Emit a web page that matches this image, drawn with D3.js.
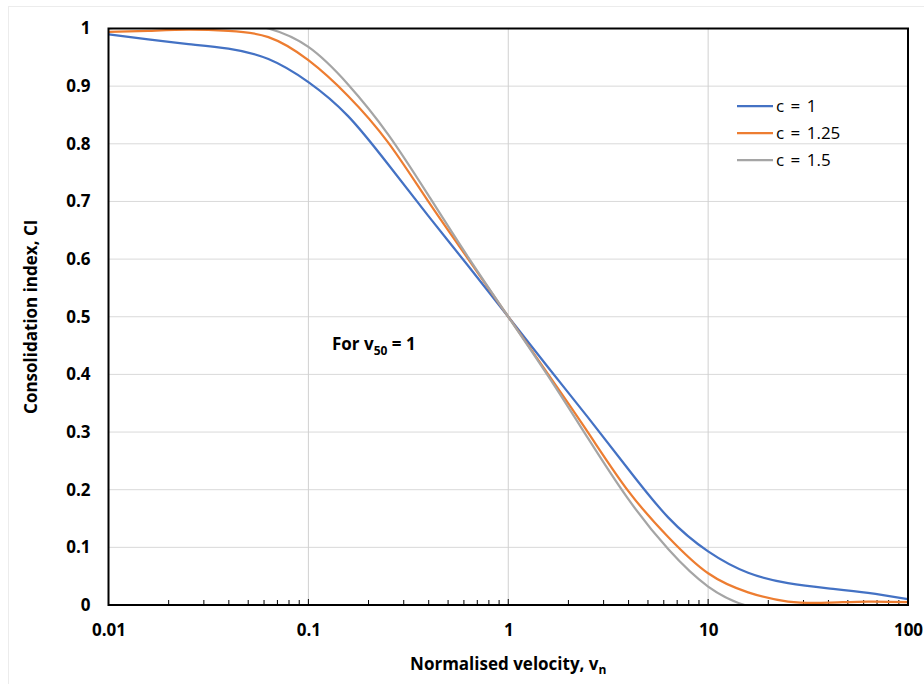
<!DOCTYPE html>
<html>
<head>
<meta charset="utf-8">
<script src="https://cdn.jsdelivr.net/npm/d3@7"></script>
<style>
  html, body { margin: 0; padding: 0; background: #fff; }
  svg { display: block; font-family: "Open Sans", "Noto Sans", sans-serif; }
</style>
</head>
<body>
<div id="chart"></div>
<script>
// ---- data ----
const velocities = [0.01,0.0158,0.0251,0.0398,0.0631,0.1,0.158,0.251,0.398,0.631,1,1.585,2.51,3.98,6.31,10,15.85,25.1,39.8,63.1,100];
const ciC1    = [0.990,0.981,0.973,0.965,0.947,0.907,0.848,0.764,0.675,0.588,0.500,0.412,0.325,0.236,0.152,0.093,0.056,0.038,0.029,0.021,0.010];
const ciC125  = [0.994,0.996,0.998,0.996,0.985,0.945,0.883,0.802,0.700,0.600,0.500,0.400,0.299,0.198,0.118,0.055,0.022,0.006,0.004,0.006,0.005];
const ciC15   = [1.000,1.008,1.014,1.012,1.000,0.968,0.903,0.816,0.711,0.603,0.500,0.397,0.289,0.184,0.097,0.032,-0.002,-0.013,-0.014,-0.006,0.000];
const seriesNames  = ["c = 1", "c = 1.25", "c = 1.5"];
const seriesColors = ["#4472C4", "#ED7D31", "#A5A5A5"];
const xTickValues = [0.01, 0.1, 1, 10, 100];
const xTickLabels = ["0.01", "0.1", "1", "10", "100"];
const yTickValues = [0,0.1,0.2,0.3,0.4,0.5,0.6,0.7,0.8,0.9,1];
const yTickLabels = ["0","0.1","0.2","0.3","0.4","0.5","0.6","0.7","0.8","0.9","1"];
const xTitle = "Normalised velocity, v";
const xTitleSub = "n";
const yTitle = "Consolidation index, CI";

const W = 924, H = 684;
const m = { left: 108.5, right: 16, top: 28.5, bottom: 79 };
const pw = 908 - m.left, ph = 605 - m.top;

const svg = d3.select("#chart").append("svg").attr("width", W).attr("height", H);

// faint outer chart border
svg.append("rect").attr("x", 8.5).attr("y", 6.5).attr("width", W).attr("height", H)
  .attr("fill", "none").attr("stroke", "#ececec");

const g = svg.append("g").attr("transform", `translate(${m.left},${m.top})`);

const x = d3.scaleLog().domain([0.01, 100]).range([0, pw]);
const y = d3.scaleLinear().domain([0, 1]).range([ph, 0]);

// gridlines
g.append("g").selectAll("line").data(yTickValues.slice(1)).join("line")
  .attr("x1", 0).attr("x2", pw)
  .attr("y1", d => y(d)).attr("y2", d => y(d))
  .attr("stroke", "#d9d9d9").attr("stroke-width", 1);
g.append("g").selectAll("line").data(xTickValues.slice(1, -1)).join("line")
  .attr("x1", d => x(d)).attr("x2", d => x(d))
  .attr("y1", 0).attr("y2", ph)
  .attr("stroke", "#d0d0d0").attr("stroke-width", 1);

// minor ticks (inside, bottom)
const minor = [];
[0.01, 0.1, 1, 10].forEach(dec => { for (let k = 2; k <= 9; k++) minor.push(dec * k); });
g.append("g").selectAll("line").data(minor).join("line")
  .attr("x1", d => x(d)).attr("x2", d => x(d))
  .attr("y1", ph).attr("y2", ph - 5)
  .attr("stroke", "#000").attr("stroke-width", 1);
g.append("g").selectAll("line").data(xTickValues).join("line")
  .attr("x1", d => x(d)).attr("x2", d => x(d))
  .attr("y1", ph).attr("y2", ph - 6)
  .attr("stroke", "#000").attr("stroke-width", 1);

// clip
svg.append("defs").append("clipPath").attr("id", "plotclip")
  .append("rect").attr("x", 0).attr("y", 0).attr("width", pw).attr("height", ph);

const seriesData = [ciC1, ciC125, ciC15];
const line = d3.line()
  .x((d, i) => x(velocities[i]))
  .y(d => y(d))
  .curve(d3.curveNatural);

const lines = g.append("g").attr("clip-path", "url(#plotclip)");
seriesData.forEach((vals, si) => {
  lines.append("path").datum(vals)
    .attr("d", line)
    .attr("fill", "none")
    .attr("stroke", seriesColors[si])
    .attr("stroke-width", 2.25)
    .attr("stroke-linejoin", "round");
});

// plot frame
g.append("rect").attr("x", 0).attr("y", 0).attr("width", pw).attr("height", ph)
  .attr("fill", "none").attr("stroke", "#000").attr("stroke-width", 2);

// axes labels
const yAxis = d3.axisLeft(y).tickValues(yTickValues)
  .tickFormat((d, i) => yTickLabels[i]).tickSize(0).tickPadding(18);
const ya = g.append("g").call(yAxis);
ya.select(".domain").remove();
ya.selectAll("text").attr("font-size", 17).attr("font-weight", "bold")
  .attr("fill", "#000").attr("font-family", "'Open Sans', sans-serif");

const xAxis = d3.axisBottom(x).tickValues(xTickValues)
  .tickFormat((d, i) => xTickLabels[i]).tickSize(0).tickPadding(19);
const xa = g.append("g").attr("transform", `translate(0,${ph})`).call(xAxis);
xa.select(".domain").remove();
xa.selectAll("text").attr("font-size", 17).attr("font-weight", "bold")
  .attr("fill", "#000").attr("font-family", "'Open Sans', sans-serif");

// axis titles
const xt = svg.append("text").attr("x", m.left + pw / 2).attr("y", 670)
  .attr("text-anchor", "middle").attr("font-size", 17).attr("font-weight", "bold");
xt.append("tspan").text(xTitle);
xt.append("tspan").text(xTitleSub).attr("font-size", 12).attr("dy", 4);

svg.append("text")
  .attr("transform", `translate(37,${m.top + ph / 2}) rotate(-90)`)
  .attr("text-anchor", "middle").attr("font-size", 17).attr("font-weight", "bold")
  .text(yTitle);

// annotation
const ann = svg.append("text").attr("x", 332).attr("y", 350)
  .attr("font-size", 17).attr("font-weight", "bold");
ann.append("tspan").text("For v");
ann.append("tspan").text("50").attr("font-size", 12).attr("dy", 5);
ann.append("tspan").text(" = 1").attr("dy", -5);

// legend
const leg = svg.append("g").attr("transform", "translate(737,106)");
seriesNames.forEach((name, i) => {
  const row = leg.append("g").attr("transform", `translate(0,${i * 27})`);
  row.append("line").attr("x1", 0).attr("x2", 36).attr("y1", 0).attr("y2", 0)
    .attr("stroke", seriesColors[i]).attr("stroke-width", 2.25);
  row.append("text").attr("x", 39).attr("y", 6).attr("font-size", 17)
    .attr("fill", "#000").style("word-spacing", "2px").text(name);
});
</script>
</body>
</html>
